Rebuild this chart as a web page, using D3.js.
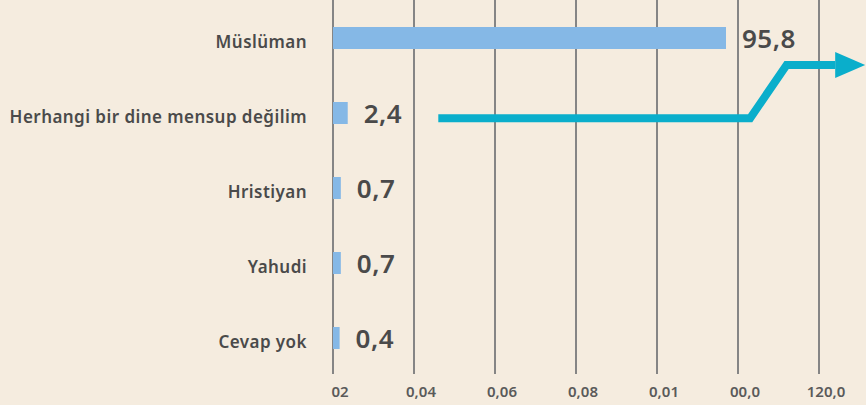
<!DOCTYPE html>
<html>
<head>
<meta charset="utf-8">
<script src="https://cdn.jsdelivr.net/npm/d3@7"></script>
<style>
  html, body { margin: 0; padding: 0; background: #f5ecdf; }
  svg { display: block; font-family: "Noto Sans", "Lato", sans-serif; }
</style>
</head>
<body>
<div id="chart"></div>
<script>
// data
const categories = ["Müslüman", "Herhangi bir dine mensup değilim", "Hristiyan", "Yahudi", "Cevap yok"];
const values = [95.8, 2.4, 0.7, 0.7, 0.4];
const valueLabels = ["95,8", "2,4", "0,7", "0,7", "0,4"];
const tickValues = [0, 20, 40, 60, 80, 100, 120];
const tickLabels = ["02", "0,04", "0,06", "0,08", "0,01", "00,0", "120,0"];
// arrow annotation in (value, category index) units
const arrowPoints = [[26, 1.07], [103, 1.07], [112, 0.36], [124, 0.36]];

const width = 866, height = 405;
const margin = { top: 0, left: 333, bottom: 31 };

const svg = d3.select("#chart").append("svg")
  .attr("width", width)
  .attr("height", height);

svg.append("rect").attr("width", width).attr("height", height).attr("fill", "#f5ecdf");

const x = d3.scaleLinear().domain([0, 120]).range([margin.left, margin.left + 486]);
const y = d3.scaleBand().domain(categories).range([0.5, 375.5]);
const yIdx = d3.scaleLinear().domain([0, 4]).range([38, 338]);
const barH = 22;

// vertical gridlines
svg.append("g")
  .selectAll("line")
  .data(tickValues)
  .join("line")
  .attr("x1", d => x(d)).attr("x2", d => x(d))
  .attr("y1", 0).attr("y2", height - margin.bottom)
  .attr("stroke", "#858585")
  .attr("stroke-width", 2);

// tick labels
svg.append("g")
  .selectAll("text")
  .data(tickValues)
  .join("text")
  .attr("x", d => x(d) + 7)
  .attr("y", 397)
  .attr("text-anchor", "middle")
  .attr("font-size", 15)
  .attr("font-weight", 600)
  .attr("fill", "#5a5a5a")
  .text((d, i) => tickLabels[i]);

// bars
svg.append("g")
  .selectAll("rect")
  .data(values)
  .join("rect")
  .attr("x", x(0))
  .attr("y", (d, i) => y(categories[i]) + y.bandwidth() / 2 - barH / 2)
  .attr("width", d => x(d) - x(0) + 5)
  .attr("height", barH)
  .attr("fill", "#85b8e6");

// category labels
svg.append("g")
  .selectAll("text")
  .data(categories)
  .join("text")
  .attr("x", 307)
  .attr("y", d => y(d) + y.bandwidth() / 2 + 10)
  .attr("text-anchor", "end")
  .attr("font-size", 17)
  .attr("font-weight", 600)
  .attr("letter-spacing", 0.45)
  .attr("fill", "#4a4a4a")
  .text(d => d);

// value labels
svg.append("g")
  .selectAll("text")
  .data(values)
  .join("text")
  .attr("x", d => x(d) + 21)
  .attr("y", (d, i) => y(categories[i]) + y.bandwidth() / 2 + 10)
  .attr("font-size", 26)
  .attr("font-weight", 600)
  .attr("letter-spacing", 0.5)
  .attr("fill", "#4a4a4a")
  .text((d, i) => valueLabels[i]);

// arrow
const line = d3.line().x(d => x(d[0])).y(d => yIdx(d[1]));
svg.append("path")
  .attr("d", line(arrowPoints))
  .attr("fill", "none")
  .attr("stroke", "#0aaecb")
  .attr("stroke-width", 8)
  .attr("stroke-linejoin", "miter");

const tip = arrowPoints[arrowPoints.length - 1];
const tx = x(tip[0]), ty = yIdx(tip[1]);
svg.append("path")
  .attr("d", `M${tx},${ty - 13} L${tx + 30},${ty} L${tx},${ty + 13} Z`)
  .attr("fill", "#0aaecb");
</script>
</body>
</html>
